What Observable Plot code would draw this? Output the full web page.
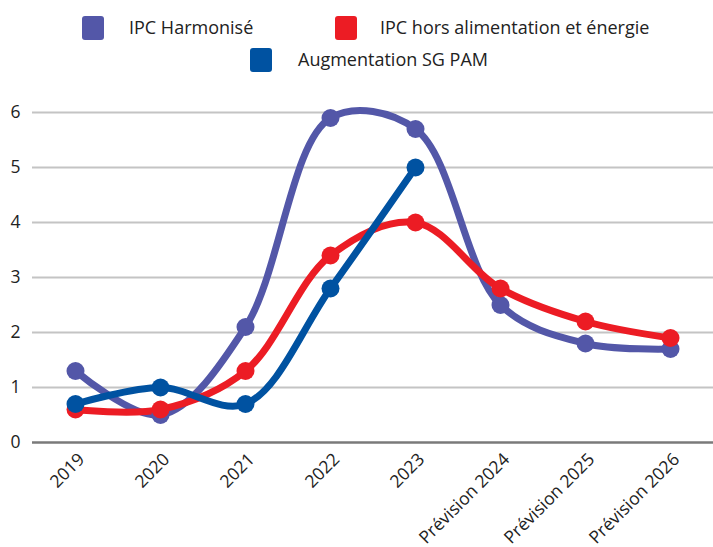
<!DOCTYPE html>
<html>
<head>
<meta charset="utf-8">
<script src="https://cdn.jsdelivr.net/npm/d3@7"></script>
<script src="https://cdn.jsdelivr.net/npm/@observablehq/plot@0.6"></script>
<style>
  html, body { margin: 0; padding: 0; background: #fff; }
  #wrap { position: relative; width: 713px; height: 547px; font-family: "Open Sans", sans-serif; color: #222; overflow: hidden; }
  .sw { position: absolute; width: 22px; height: 24px; border-radius: 3px; }
  .lb { position: absolute; font-size: 18px; line-height: 24px; white-space: nowrap; }
  #chart { position: absolute; left: 0; top: 0; }
</style>
</head>
<body>
<div id="wrap">
  <div id="chart"></div>
</div>
<script>
const categories = ["2019", "2020", "2021", "2022", "2023", "Prévision 2024", "Prévision 2025", "Prévision 2026"];
const seriesNames = ["IPC Harmonisé", "IPC hors alimentation et énergie", "Augmentation SG PAM"];
const ipcHarmonise = [1.3, 0.5, 2.1, 5.9, 5.7, 2.5, 1.8, 1.7];
const ipcHorsAlimEnergie = [0.6, 0.6, 1.3, 3.4, 4.0, 2.8, 2.2, 1.9];
const augmentationSGPAM = [0.7, 1.0, 0.7, 2.8, 5.0, null, null, null];
const yTicks = [0, 1, 2, 3, 4, 5, 6];
const colors = ["#5357a8", "#ec1c24", "#0052a1"];

const seriesValues = [ipcHarmonise, ipcHorsAlimEnergie, augmentationSGPAM];
const data = [];
seriesValues.forEach((vals, si) => {
  vals.forEach((v, i) => {
    if (v != null) data.push({ series: seriesNames[si], cat: categories[i], value: v });
  });
});

const marks = [
  Plot.ruleY(yTicks.filter(d => d > 0), { stroke: "#c4c4c4", strokeWidth: 2 }),
  Plot.ruleY([0], { stroke: "#7a7a7a", strokeWidth: 2.5 }),
  Plot.axisY({ ticks: yTicks, tickSize: 0, tickPadding: 12, fontSize: 17.5, tickFormat: d => String(d), label: null }),
  Plot.axisX({ tickSize: 0, tickRotate: -45, tickPadding: 9, fontSize: 17.5, dx: 6, dy: 5, label: null })
];
seriesNames.forEach((name, si) => {
  const d = data.filter(r => r.series === name);
  marks.push(Plot.line(d, { x: "cat", y: "value", stroke: colors[si], strokeWidth: 7, curve: "catmull-rom", strokeLinecap: "round" }));
});
seriesNames.forEach((name, si) => {
  const d = data.filter(r => r.series === name);
  marks.push(Plot.dot(d, { x: "cat", y: "value", fill: colors[si], r: 9 }));
});

const chart = Plot.plot({
  width: 713,
  height: 547,
  marginTop: 112,
  marginBottom: 105,
  marginLeft: 32,
  marginRight: 0,
  style: { fontFamily: "Open Sans, sans-serif", color: "#222", background: "#fff", overflow: "visible" },
  x: { type: "point", domain: categories, padding: 0.5 },
  y: { domain: [0, 6] },
  marks
});
document.getElementById("chart").appendChild(chart);

// Legend
const wrap = document.getElementById("wrap");
const legendPos = [
  { sx: 82, sy: 16, tx: 129, ty: 15 },
  { sx: 335, sy: 16, tx: 380, ty: 15 },
  { sx: 250, sy: 48, tx: 298, ty: 47 }
];
seriesNames.forEach((name, si) => {
  const p = legendPos[si];
  const sw = document.createElement("div");
  sw.className = "sw";
  sw.style.left = p.sx + "px";
  sw.style.top = p.sy + "px";
  sw.style.background = colors[si];
  wrap.appendChild(sw);
  const lb = document.createElement("div");
  lb.className = "lb";
  lb.style.left = p.tx + "px";
  lb.style.top = p.ty + "px";
  lb.textContent = name;
  wrap.appendChild(lb);
});
</script>
</body>
</html>
